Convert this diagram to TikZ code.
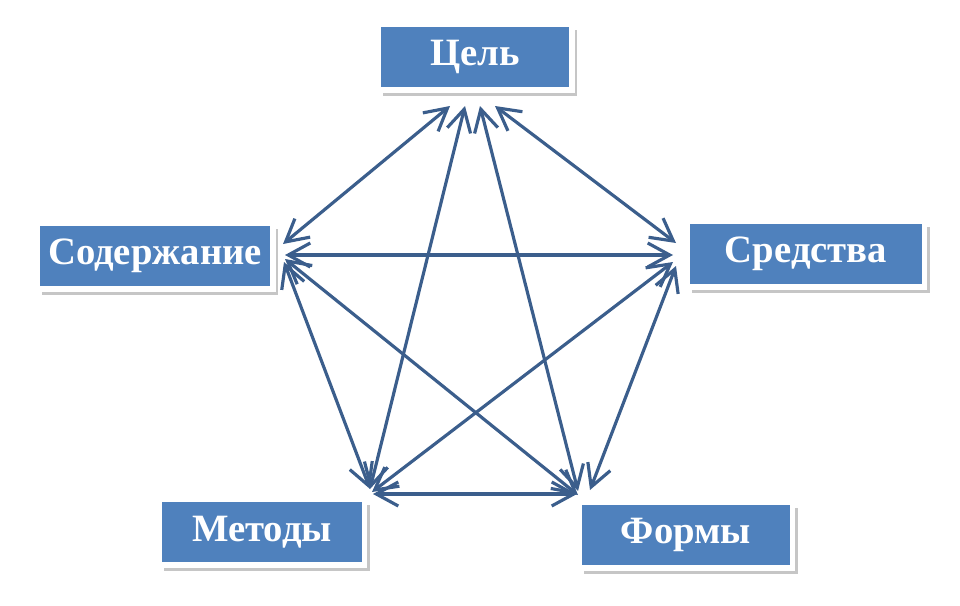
\documentclass[tikz,border=0pt]{standalone}
\usepackage{fontspec}
\setmainfont{Liberation Serif}
\usetikzlibrary{arrows.meta,shadows}
\definecolor{boxblue}{HTML}{4F81BD}
\definecolor{linkblue}{HTML}{3B5E8C}
\tikzset{
  part/.style = {draw=white, line width=1.6pt, fill=boxblue, text=white,
                 font=\bfseries\fontsize{11}{13}\selectfont,
                 minimum height=0.66cm, inner sep=0pt,
                 drop shadow={shadow xshift=0.05cm, shadow yshift=-0.06cm,
                              fill=gray!45, opacity=1}},
  link/.style = {draw=linkblue, line width=0.9pt,
                 {Straight Barb[length=2.2mm,width=2.4mm]}-{Straight Barb[length=2.2mm,width=2.4mm]}}
}
\begin{document}
\begin{tikzpicture}[x=0.01cm, y=-0.01cm]
  \useasboundingbox (0,0) rectangle (960,606);

  \node[part, minimum width=1.94cm] (goal)    at (475,57)  {Цель};
  \node[part, minimum width=2.36cm] (content) at (155,256) {Содержание};
  \node[part, minimum width=2.37cm] (means)   at (806,254) {Средства};
  \node[part, minimum width=2.05cm] (methods) at (262,532) {Методы};
  \node[part, minimum width=2.13cm] (forms)   at (686,535) {Формы};

  % ends of the links near each box
  \coordinate (g1) at (450,106); \coordinate (g2) at (465,106);
  \coordinate (g3) at (480,106); \coordinate (g4) at (495,106);
  \coordinate (c1) at (283,244); \coordinate (c2) at (285,255);
  \coordinate (c3) at (284,262); \coordinate (c4) at (285,259);
  \coordinate (s1) at (676,243); \coordinate (s2) at (673,255);
  \coordinate (s3) at (673,262); \coordinate (s4) at (676,266);
  \coordinate (m1) at (370,489); \coordinate (m2) at (372,492);
  \coordinate (m3) at (373,494);
  \coordinate (f1) at (578,491); \coordinate (f2) at (578,495);
  \coordinate (f3) at (590,490); \coordinate (f4) at (577,494);

  \draw[link] (g1) -- (c1);
  \draw[link] (g4) -- (s1);
  \draw[link] (g2) -- (m1);
  \draw[link] (g3) -- (f1);
  \draw[link] (c2) -- (s2);
  \draw[link] (c3) -- (m1);
  \draw[link] (c4) -- (f2);
  \draw[link] (s3) -- (m2);
  \draw[link] (s4) -- (f3);
  \draw[link] (m3) -- (f4);
\end{tikzpicture}
\end{document}
